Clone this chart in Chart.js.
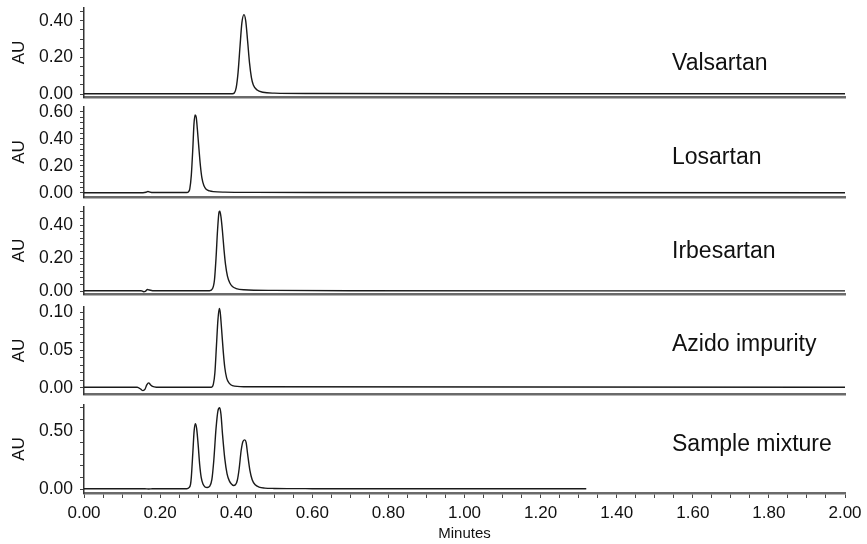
<!DOCTYPE html>
<html>
<head>
<meta charset="utf-8">
<script src="https://cdn.jsdelivr.net/npm/chart.js@4.4.1/dist/chart.umd.min.js"></script>
<style>
html, body { margin: 0; padding: 0; background: #fff; }
#wrap { position: relative; width: 867px; height: 544px; }
#wrap canvas { position: absolute; left: 0; }
</style>
</head>
<body>
<div id="wrap"></div>
<script>
// compound names, one per panel
const names = ["Valsartan", "Losartan", "Irbesartan", "Azido impurity", "Sample mixture"];

// retention time (min) and absorbance (AU)
const valsartanT  = [0, 0.16, 0.39, 0.395, 0.40, 0.405, 0.41, 0.415, 0.4205, 0.425, 0.43, 0.435, 0.44, 0.445, 0.455, 0.47, 0.50, 0.60, 1.00, 2.00];
const valsartanAU = [0.002, 0.002, 0.002, 0.006, 0.035, 0.12, 0.26, 0.39, 0.434, 0.40, 0.29, 0.17, 0.09, 0.05, 0.022, 0.01, 0.005, 0.003, 0.002, 0.002];

const losartanT  = [0, 0.155, 0.163, 0.168, 0.174, 0.18, 0.27, 0.275, 0.278, 0.282, 0.286, 0.289, 0.292, 0.295, 0.298, 0.302, 0.306, 0.31, 0.315, 0.322, 0.33, 0.34, 0.37, 0.45, 0.60, 2.00];
const losartanAU = [0.002, 0.002, 0.005, 0.011, 0.006, 0.003, 0.003, 0.01, 0.03, 0.13, 0.33, 0.51, 0.578, 0.56, 0.47, 0.33, 0.20, 0.11, 0.055, 0.025, 0.015, 0.01, 0.006, 0.004, 0.003, 0.002];

const irbesartanT  = [0, 0.15, 0.157, 0.161, 0.167, 0.172, 0.18, 0.33, 0.338, 0.343, 0.347, 0.351, 0.355, 0.357, 0.36, 0.364, 0.368, 0.372, 0.377, 0.383, 0.39, 0.40, 0.42, 0.50, 0.70, 2.00];
const irbesartanAU = [0.002, 0.002, -0.004, -0.002, 0.009, 0.006, 0.002, 0.002, 0.015, 0.07, 0.20, 0.37, 0.48, 0.485, 0.45, 0.36, 0.25, 0.16, 0.09, 0.05, 0.027, 0.015, 0.008, 0.004, 0.002, 0.001];

const azidoT  = [0, 0.14, 0.15, 0.155, 0.16, 0.165, 0.17, 0.175, 0.18, 0.19, 0.335, 0.34, 0.344, 0.348, 0.352, 0.3555, 0.358, 0.362, 0.366, 0.37, 0.375, 0.382, 0.39, 0.42, 2.00];
const azidoAU = [0.001, 0.001, -0.002, -0.0035, -0.002, 0.004, 0.0067, 0.004, 0.002, 0.001, 0.001, 0.005, 0.02, 0.055, 0.09, 0.105, 0.1, 0.075, 0.048, 0.027, 0.013, 0.006, 0.003, 0.0015, 0.001];

const mixtureT  = [0, 0.16, 0.17, 0.18, 0.27, 0.276, 0.28, 0.282, 0.286, 0.2895, 0.2925, 0.296, 0.30, 0.304, 0.308, 0.313, 0.318, 0.324, 0.33, 0.336, 0.341, 0.347, 0.352, 0.3565, 0.36, 0.364, 0.37, 0.376, 0.382, 0.388, 0.393, 0.398, 0.403, 0.408, 0.413, 0.418, 0.4225, 0.426, 0.43, 0.436, 0.442, 0.45, 0.46, 0.475, 0.50, 0.60, 1.00, 1.32];
const mixtureAU = [0.002, 0.002, 0.0, 0.002, 0.003, 0.012, 0.04, 0.10, 0.31, 0.50, 0.56, 0.52, 0.38, 0.21, 0.10, 0.04, 0.018, 0.013, 0.022, 0.08, 0.24, 0.52, 0.67, 0.697, 0.64, 0.47, 0.26, 0.13, 0.07, 0.042, 0.03, 0.036, 0.075, 0.18, 0.33, 0.41, 0.421, 0.40, 0.30, 0.16, 0.08, 0.037, 0.017, 0.008, 0.005, 0.003, 0.002, 0.002];

const traceT  = [valsartanT, losartanT, irbesartanT, azidoT, mixtureT];
const traceAU = [valsartanAU, losartanAU, irbesartanAU, azidoAU, mixtureAU];

// axis ticks
const xMajors = [0, 0.2, 0.4, 0.6, 0.8, 1.0, 1.2, 1.4, 1.6, 1.8, 2.0];
const xMinorStep = 0.05;
const yMajors = [[0, 0.2, 0.4], [0, 0.2, 0.4, 0.6], [0, 0.2, 0.4], [0, 0.05, 0.1], [0, 0.5]];
const yMinorStep = [0.05, 0.04, 0.04, 0.01, 0.1];
const yRanges = [[-0.016, 0.47], [-0.03, 0.637], [-0.018, 0.51], [-0.008, 0.107], [-0.034, 0.72]];

// page geometry (px)
const panelTop = [8, 107, 207, 307, 405];
const panelBottom = [97, 197, 294, 394, 493];
const nameBaseline = [70, 164, 258, 351, 451];

const FONT = '"Liberation Sans", Arial, sans-serif';
Chart.defaults.font.family = FONT;
Chart.defaults.color = "#111";

function makeTicks(step, max) {
    var out = [];
    for (var k = 0; k * step <= max + 1e-9; k++) {
        out.push({ value: Math.round(k * step * 10000) / 10000 });
    }
    return out;
}

function isMajor(v, majors) {
    return majors.some(function (m) { return Math.abs(m - v) < 1e-6; });
}

// draws the compound name inside the panel
const nameLabel = {
    id: "nameLabel",
    afterDraw(chart, args, opts) {
        const ctx = chart.ctx;
        ctx.save();
        ctx.font = "23px " + FONT;
        ctx.fillStyle = "#111";
        ctx.textBaseline = "alphabetic";
        ctx.fillText(opts.text, opts.x, opts.y);
        ctx.restore();
    }
};

const wrap = document.getElementById("wrap");

for (let i = 0; i < 5; i++) {
    const last = i === 4;
    const canvasTop = panelTop[i] - 12;
    const canvasH = last ? 544 - canvasTop : panelBottom[i] - canvasTop + 10;

    const cv = document.createElement("canvas");
    cv.width = 867;
    cv.height = canvasH;
    cv.style.top = canvasTop + "px";
    wrap.appendChild(cv);

    const points = traceT[i].map(function (t, j) { return { x: t, y: traceAU[i][j] }; });

    new Chart(cv.getContext("2d"), {
        type: "line",
        data: {
            datasets: [{
                data: points,
                borderColor: "#1a1a1a",
                borderWidth: 1.4,
                pointRadius: 0,
                cubicInterpolationMode: "monotone",
                fill: false
            }]
        },
        options: {
            responsive: false,
            animation: false,
            events: [],
            layout: { padding: { top: 12, bottom: last ? 0 : 10, left: 0, right: 22 } },
            plugins: {
                legend: { display: false },
                tooltip: { enabled: false },
                nameLabel: { text: names[i], x: 672, y: nameBaseline[i] - canvasTop }
            },
            scales: {
                x: {
                    type: "linear",
                    min: 0,
                    max: 2,
                    afterBuildTicks: function (s) { s.ticks = makeTicks(xMinorStep, 2); },
                    afterFit: function (s) {
                        s.height = last ? 51 : 0;
                        s.paddingLeft = 0;
                        s.paddingRight = 0;
                    },
                    grid: { display: last, drawOnChartArea: false, drawTicks: last, tickLength: 5, tickColor: "#444", tickWidth: 1 },
                    border: { display: true, color: "#6a6a6a", width: 2.4 },
                    ticks: {
                        display: last,
                        autoSkip: false,
                        maxRotation: 0,
                        padding: 5,
                        font: { size: 17 },
                        color: "#111",
                        callback: function (v) { return isMajor(v, xMajors) ? v.toFixed(2) : ""; }
                    },
                    title: { display: last, text: "Minutes", font: { size: 15 }, color: "#111", padding: { top: 0, bottom: 1 } }
                },
                y: {
                    min: yRanges[i][0],
                    max: yRanges[i][1],
                    afterBuildTicks: function (s) { s.ticks = makeTicks(yMinorStep[i], yRanges[i][1]); },
                    afterFit: function (s) {
                        s.width = 84;
                        s.paddingTop = 0;
                        s.paddingBottom = 0;
                    },
                    grid: { drawOnChartArea: false, drawTicks: true, tickLength: 4, tickColor: "#444", tickWidth: 1 },
                    border: { display: true, color: "#333", width: 1.5 },
                    ticks: {
                        autoSkip: false,
                        padding: 7,
                        font: { size: 17.5 },
                        color: "#111",
                        callback: function (v) { return isMajor(v, yMajors[i]) ? v.toFixed(2) : ""; }
                    },
                    title: { display: true, text: "AU", font: { size: 17 }, color: "#111", padding: { top: 9, bottom: 0 } }
                }
            }
        },
        plugins: [nameLabel]
    });
}
</script>
</body>
</html>
